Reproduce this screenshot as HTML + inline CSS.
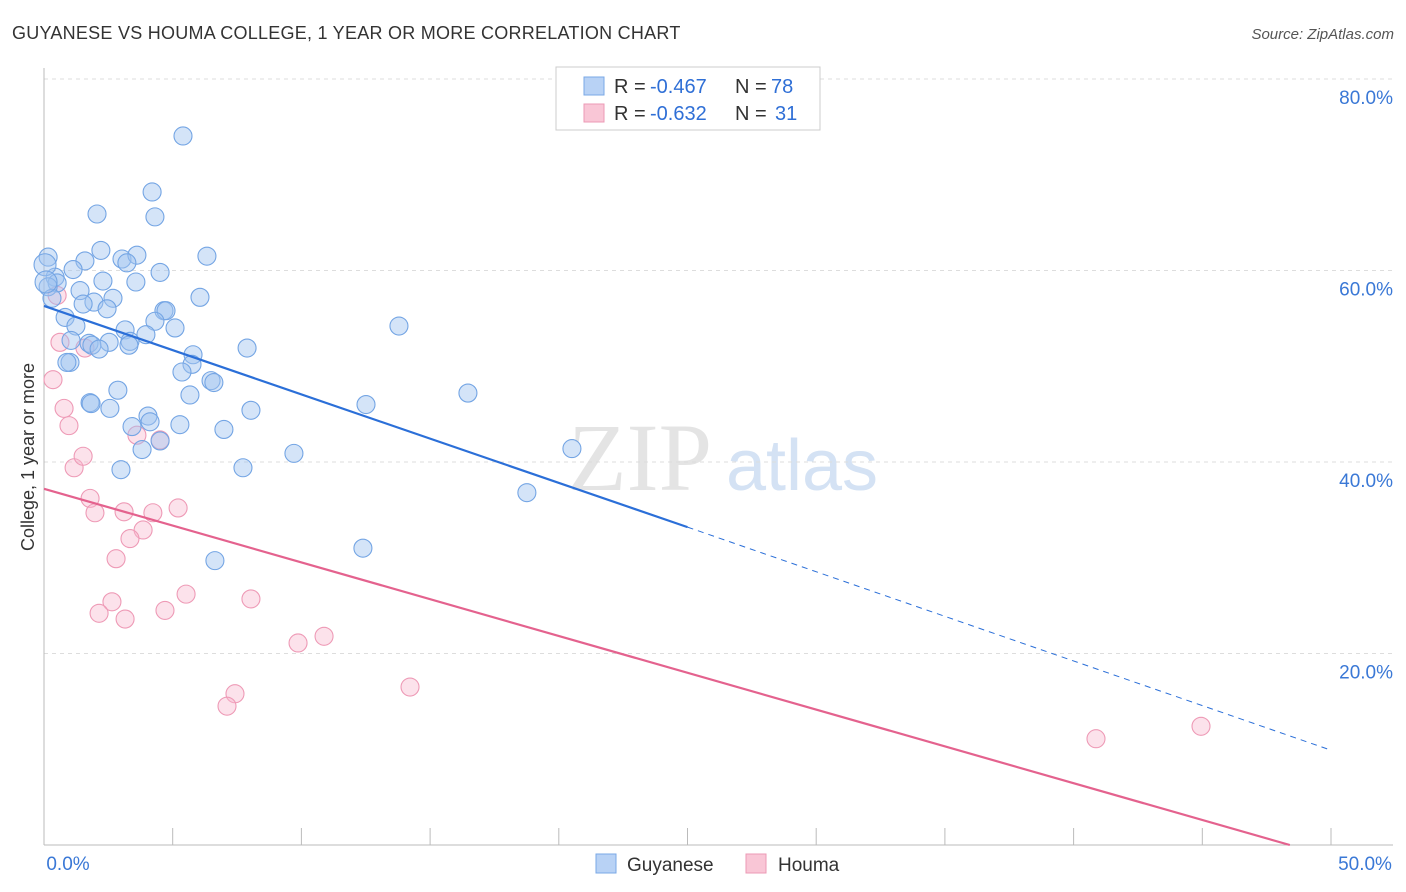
<!DOCTYPE html>
<html><head><meta charset="utf-8"><style>
body{margin:0;background:#fff;font-family:"Liberation Sans",sans-serif;}
svg{display:block}
</style></head><body>
<svg id="c" width="1406" height="892">
<text x="12" y="39" font-size="18" fill="#333" letter-spacing="0.25">GUYANESE VS HOUMA COLLEGE, 1 YEAR OR MORE CORRELATION CHART</text>
<text x="1394" y="39" font-size="15" fill="#555" font-style="italic" text-anchor="end">Source: ZipAtlas.com</text>
<text x="640" y="490" font-size="96" fill="#e4e4e4" font-family="Liberation Serif,serif" text-anchor="middle">ZIP</text>
<text x="802" y="490" font-size="72" fill="#d4e2f4" text-anchor="middle">atlas</text>
<text transform="translate(34,457) rotate(-90)" font-size="18" fill="#333" text-anchor="middle">College, 1 year or more</text>
<g id="grid"></g><g id="pts"></g><g id="lines"></g>
<g>
<rect x="556" y="67" width="264" height="63" fill="#fff" stroke="#ccc"/>
<rect x="584" y="77" width="20" height="18" fill="#b8d2f5" stroke="#7aa8e6"/>
<rect x="584" y="104" width="20" height="18" fill="#f9c6d6" stroke="#ec9ab5"/>
<text x="614" y="93" font-size="20" fill="#333">R =</text>
<text x="650" y="93" font-size="20" fill="#2f6fd6">-0.467</text>
<text x="735" y="93" font-size="20" fill="#333">N =</text>
<text x="771" y="93" font-size="20" fill="#2f6fd6">78</text>
<text x="614" y="120" font-size="20" fill="#333">R =</text>
<text x="650" y="120" font-size="20" fill="#2f6fd6">-0.632</text>
<text x="735" y="120" font-size="20" fill="#333">N =</text>
<text x="775" y="120" font-size="20" fill="#2f6fd6">31</text>
</g>
<g>
<rect x="596" y="854" width="20" height="19" fill="#b8d2f5" stroke="#7aa8e6"/>
<text x="627" y="871" font-size="19" fill="#333">Guyanese</text>
<rect x="746" y="854" width="20" height="19" fill="#f9c6d6" stroke="#ec9ab5"/>
<text x="778" y="871" font-size="19" fill="#333">Houma</text>
</g>
</svg>
<script>
const blueX=[5.40,4.20,2.06,4.31,2.21,3.03,3.61,6.33,0.16,3.22,1.59,4.51,1.13,0.43,0.51,2.29,3.57,0.16,1.40,6.06,0.31,1.94,1.52,2.68,2.45,4.66,4.74,0.82,4.31,5.09,1.24,3.15,13.79,3.96,1.05,1.75,2.53,3.34,1.86,2.14,3.30,7.89,5.79,1.01,0.89,5.75,5.36,6.49,6.60,2.87,5.67,16.47,1.79,1.83,2.56,8.04,12.51,4.04,4.12,3.42,5.28,6.99,4.51,3.81,9.71,20.51,7.73,2.99,18.76,12.39,6.64,0.04,0.08];
const blueY=[74.05,68.2,65.9,65.6,62.1,61.2,61.6,61.5,61.4,60.8,61.0,59.8,60.1,59.3,58.7,58.9,58.8,58.3,57.9,57.2,57.1,56.7,56.5,57.1,56.0,55.8,55.8,55.1,54.7,54.0,54.2,53.8,54.2,53.3,52.7,52.4,52.5,52.6,52.2,51.8,52.2,51.9,51.2,50.4,50.4,50.2,49.4,48.5,48.3,47.5,47.0,47.2,46.2,46.1,45.6,45.4,46.0,44.8,44.2,43.7,43.9,43.4,42.2,41.3,40.9,41.4,39.4,39.2,36.8,31.0,29.7,60.6,58.8];
const pinkX=[0.51,0.62,1.59,0.35,0.78,0.97,1.17,1.52,1.79,1.98,3.11,4.23,5.21,3.85,3.34,2.80,2.64,5.52,8.04,2.14,3.15,4.70,3.61,4.51,9.87,10.88,7.42,7.11,14.22,40.87,44.95];
const pinkY=[57.4,52.5,51.9,48.6,45.6,43.8,39.4,40.6,36.2,34.7,34.8,34.7,35.2,32.9,32.0,29.9,25.4,26.2,25.7,24.2,23.6,24.5,42.8,42.3,21.1,21.8,15.8,14.5,16.5,11.1,12.4];
const yTicks=[20,40,60,80];
const yTickLabels=["20.0%","40.0%","60.0%","80.0%"];
const blueTrend=[0,56.3,25,33.2,50,9.9];
const pinkTrend=[0,37.2,48.4,0];
const X0=44,X1=1331,Y0=845,Ypx=191.5;
const sx=v=>X0+(X1-X0)*v/50, sy=v=>Y0-v/20*Ypx;
const NS="http://www.w3.org/2000/svg";
function mk(tag,attrs,parent){const e=document.createElementNS(NS,tag);for(const k in attrs)e.setAttribute(k,attrs[k]);parent.appendChild(e);return e;}
const g=document.getElementById('grid');
yTicks.forEach((t,i)=>{
 const l=mk('line',{x1:X0,x2:1393,y1:sy(t),y2:sy(t),stroke:'#ddd','stroke-dasharray':'4,4'},g);
 
 
 const tx=mk('text',{x:1393,y:sy(t)+25,'font-size':19,fill:'#3a78d6','text-anchor':'end'},g);
 tx.textContent=yTickLabels[i];
 
 
});
const ax=mk('line',{x1:X0,x2:X0,y1:68,y2:Y0,stroke:'#bbb'},g);


const bx=mk('line',{x1:X0,x2:1393,y1:Y0,y2:Y0,stroke:'#bbb'},g);


for(let i=0;i<=10;i++){
 const t=mk('line',{x1:sx(i*5),x2:sx(i*5),y1:Y0,y2:828,stroke:'#bbb'},g);
 
 
}
[["0.0%",X0+24],["50.0%",1365]].forEach(([s,x])=>{
 const t=mk('text',{x:x,y:870,'font-size':19,fill:'#3a78d6','text-anchor':'middle'},g);
 t.textContent=s;
 
 
});
const p=document.getElementById('pts');
pinkX.forEach((x,i)=>{
 const c=mk('circle',{cx:sx(x),cy:sy(pinkY[i]),r:9,fill:'rgba(247,182,204,0.4)',stroke:'#ee9ab6','stroke-width':1.1},p);
 
 
});
blueX.forEach((x,i)=>{
 const c=mk('circle',{cx:sx(x),cy:sy(blueY[i]),r:(i>=71?11:9),fill:'rgba(160,196,240,0.45)',stroke:'#74a5e4','stroke-width':1.1},p);
 
 
});
const L=document.getElementById('lines');
const b1=mk('line',{x1:sx(blueTrend[0]),y1:sy(blueTrend[1]),x2:sx(blueTrend[2]),y2:sy(blueTrend[3]),stroke:'#2b6fd8','stroke-width':2.2},L);


const b2=mk('line',{x1:sx(blueTrend[2]),y1:sy(blueTrend[3]),x2:sx(blueTrend[4]),y2:sy(blueTrend[5]),stroke:'#2b6fd8','stroke-width':1,'stroke-dasharray':'6,5'},L);


const p1=mk('line',{x1:sx(pinkTrend[0]),y1:sy(pinkTrend[1]),x2:sx(pinkTrend[2]),y2:sy(pinkTrend[3]),stroke:'#e4628e','stroke-width':2.2},L);


</script>
</body></html>
